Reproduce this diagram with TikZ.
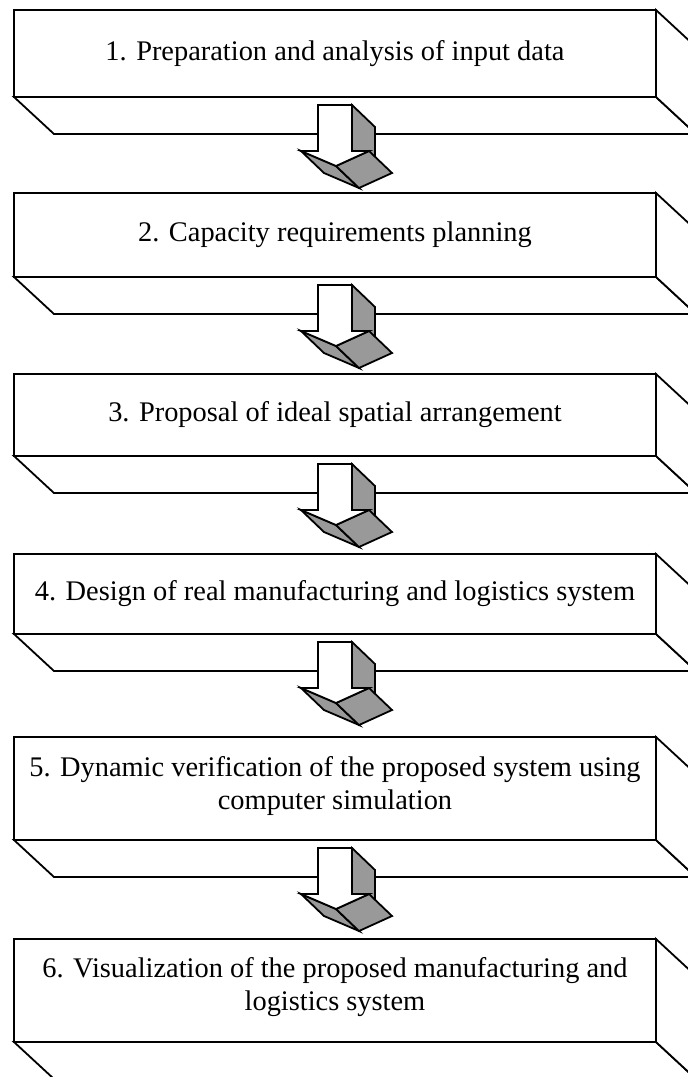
\documentclass[tikz,border=0pt]{standalone}
\usepackage{fontspec}
\setmainfont{Liberation Serif}
\usetikzlibrary{calc}
\definecolor{facegray}{gray}{0.6}
\tikzset{
  slab/.style={draw, line width=1.8pt, fill=white, minimum width=642pt,
    inner sep=0pt, outer sep=0pt},
  slabtext/.style={inner sep=0pt, outer sep=0pt, align=center,
    font=\fontsize{28.4}{33}\selectfont},
  edge/.style={line width=1.8pt, line join=miter},
  side/.style={edge, fill=white},
  shade/.style={edge, fill=facegray},
}
% one process step: front face, its caption, and its bottom and right faces
% #1 name, #2 top, #3 bottom, #4 caption, #5 vertical nudge of the caption
\newcommand{\slabbox}[5]{%
  \pgfmathsetmacro{\slabh}{#3-#2}%
  \pgfmathsetmacro{\slabc}{(#2+#3)/2}%
  \node[slab, minimum height=\slabh pt] (#1) at (335,\slabc) {};
  \node[slabtext] (#1-label) at ($(#1.center)+(0,#5)$) {#4};
  \draw[side] (#1.south west) -- ++(40,37) -- ($(#1.south east)+(40,37)$) -- (#1.south east) -- cycle;
  \draw[side] (#1.north east) -- ++(40,37) -- ($(#1.south east)+(40,37)$) -- (#1.south east) -- cycle;
}
% 3-D block arrow hanging below a step
\newcommand{\blockarrow}[1]{%
  \begin{scope}[shift={($(#1.south)+(-17,8)$)}]
    \draw[shade] (34,0) -- (57,22) -- (57,68) -- (34,46) -- cycle;
    \draw[shade] (-17,46) -- (18,61) -- (41,83) -- (6,68) -- cycle;
    \draw[shade] (18,61) -- (51,46) -- (74,68) -- (41,83) -- cycle;
    \draw[side] (0,0) -- (34,0) -- (34,46) -- (51,46) -- (18,61) -- (-17,46) -- (0,46) -- cycle;
  \end{scope}
}
\begin{document}
\begin{tikzpicture}[x={(1pt,0)}, y={(0,-1pt)}]
  \useasboundingbox (0,0) rectangle (688,1077);
  \clip (0,0) rectangle (688,1077);
  \slabbox{s1}{10}{97}{1. Preparation and analysis of input data}{0}
  \slabbox{s2}{193}{277}{2. Capacity requirements planning}{0}
  \slabbox{s3}{374}{456}{3. Proposal of ideal spatial arrangement}{0}
  \slabbox{s4}{554}{634}{4. Design of real manufacturing and logistics system}{0}
  \slabbox{s5}{737}{840}{5. Dynamic verification of the proposed system using\\computer simulation}{-2}
  \slabbox{s6}{939}{1042}{6. Visualization of the proposed manufacturing and\\logistics system}{-3}
  \blockarrow{s1}
  \blockarrow{s2}
  \blockarrow{s3}
  \blockarrow{s4}
  \blockarrow{s5}
\end{tikzpicture}
\end{document}
